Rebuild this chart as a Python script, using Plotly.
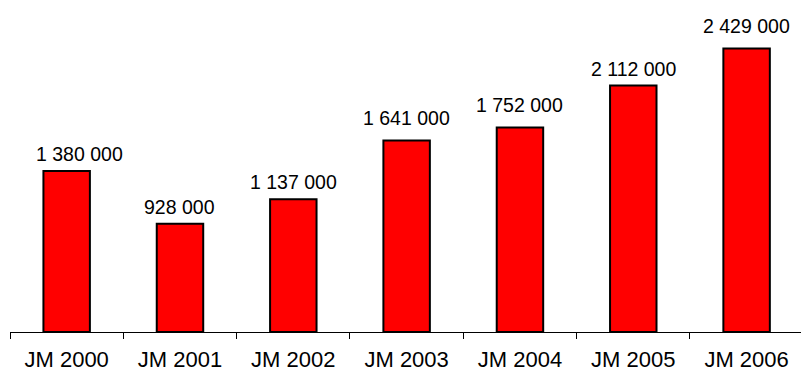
import plotly.graph_objects as go

categories = ["JM 2000", "JM 2001", "JM 2002", "JM 2003", "JM 2004", "JM 2005", "JM 2006"]
values = [1380000, 928000, 1137000, 1641000, 1752000, 2112000, 2429000]
value_labels = ["1 380 000", "928 000", "1 137 000", "1 641 000", "1 752 000", "2 112 000", "2 429 000"]

FONT = "Liberation Sans, Arial, sans-serif"

# per-label offsets in pixels (dx, dy) for hand-placed data labels
label_nudge = {0: (13, 0), 3: (0, 6), 4: (0, 6), 6: (0, 6)}

fig = go.Figure(
    go.Bar(
        x=categories,
        y=values,
        marker=dict(color="#FF0000", line=dict(color="#000000", width=2)),
        hoverinfo="skip",
    )
)

# value labels above each bar
for i, (cat, val, lab) in enumerate(zip(categories, values, value_labels)):
    dx, dy = label_nudge.get(i, (0, 0))
    fig.add_annotation(
        x=cat, y=val, text=lab, showarrow=False,
        xanchor="center", yanchor="bottom", yshift=4 + dy, xshift=dx,
        font=dict(family=FONT, size=19.5, color="#000000"),
    )

fig.update_layout(
    width=801,
    height=372,
    margin=dict(l=10, r=0, t=0, b=40),
    paper_bgcolor="white",
    plot_bgcolor="white",
    bargap=0.59,
    showlegend=False,
    xaxis=dict(
        type="category",
        range=[-0.5, 6.48],
        automargin=False,
        showline=True, linecolor="#000000", linewidth=1,
        ticks="outside", tickson="boundaries", ticklen=6, tickcolor="#000000", tickwidth=1,
        ticklabelstandoff=8,
        showgrid=False, zeroline=False,
        tickfont=dict(family=FONT, size=22, color="#000000"),
    ),
    yaxis=dict(
        range=[0, 2845000],
        visible=False,
        automargin=False,
        showgrid=False, zeroline=False,
    ),
)

fig.write_html("out.html")
